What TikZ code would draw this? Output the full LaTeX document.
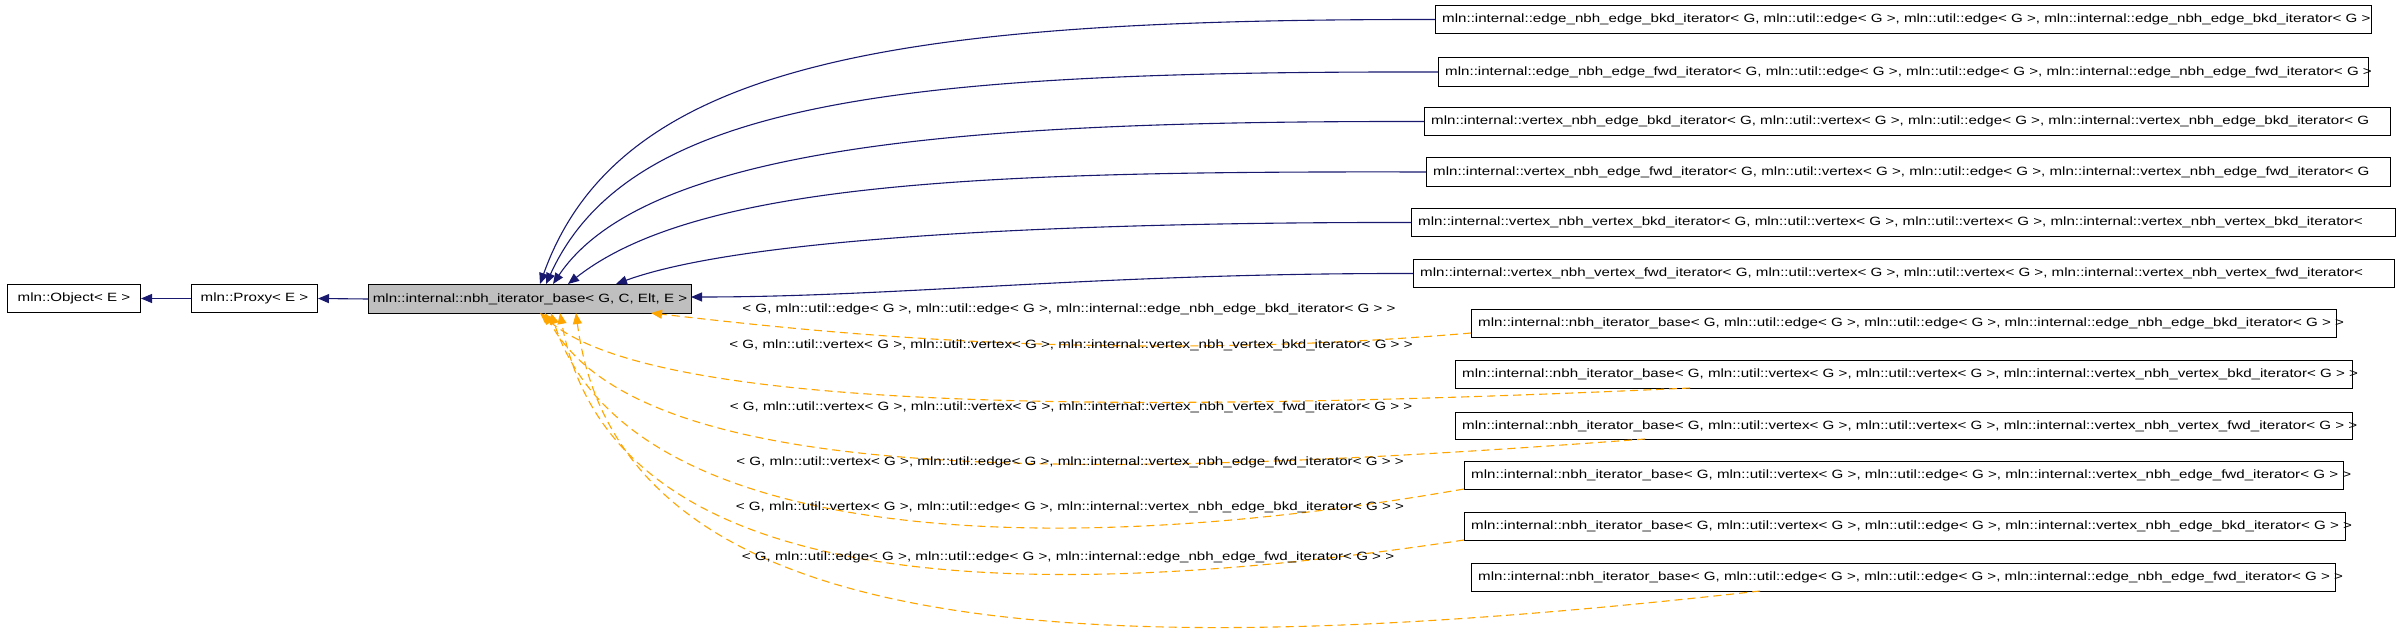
\documentclass[tikz,border=0pt]{standalone}
\usepackage{fontspec}
\setmainfont{Liberation Sans}
\usetikzlibrary{arrows.meta}
\definecolor{inh}{HTML}{191970}
\definecolor{tmpl}{HTML}{FFA500}
\newcommand\tx[1]{\scalebox{1.26}[1]{\fontsize{12pt}{14pt}\selectfont #1}}
\tikzset{
  box/.style={draw=black, line width=1pt, anchor=north west, inner sep=0pt},
  txt/.style={anchor=west, inner sep=0pt},
  blue/.style={draw=inh, line width=1.1pt, -{Triangle[length=11pt,width=9pt]}},
  orng/.style={draw=tmpl, line width=1.1pt, dash pattern=on 8pt off 5pt, -{Triangle[length=11pt,width=9pt]}},
  lbl/.style={inner sep=0pt, anchor=center}
}
\newcommand\bx[6]{% name, x1, y1, x2, y2, text
  \node[box, minimum width=#4pt-#2pt, minimum height=#5pt-#3pt] (#1) at (#2pt,-#3pt) {};
  \node[txt] (#1t) at ([xshift=7pt]#1.west) {\tx{#6}};
}
\begin{document}
\begin{tikzpicture}[x=1pt,y=1pt]
\useasboundingbox (0,0) rectangle (2400,-644);
\node[box, minimum width=133pt, minimum height=28pt] (obj) at (7,-284) {};
\node[lbl] (objt) at (obj.center) {\tx{mln::Object< E >}};
\node[box, minimum width=126pt, minimum height=28pt] (prx) at (191,-284) {};
\node[lbl] (prxt) at (prx.center) {\tx{mln::Proxy< E >}};
\node[box, fill=gray!50, minimum width=323pt, minimum height=29pt] (base) at (368,-284) {};
\node[lbl] (baset) at (base.center) {\tx{mln::internal::nbh\_iterator\_base< G, C, Elt, E >}};

\bx{r1}{1435}{5}{2371}{33}{mln::internal::edge\_nbh\_edge\_bkd\_iterator< G, mln::util::edge< G >, mln::util::edge< G >, mln::internal::edge\_nbh\_edge\_bkd\_iterator< G >}
\bx{r2}{1438}{57}{2368}{86}{mln::internal::edge\_nbh\_edge\_fwd\_iterator< G, mln::util::edge< G >, mln::util::edge< G >, mln::internal::edge\_nbh\_edge\_fwd\_iterator< G >}
\bx{r3}{1424}{107}{2390}{135}{mln::internal::vertex\_nbh\_edge\_bkd\_iterator< G, mln::util::vertex< G >, mln::util::edge< G >, mln::internal::vertex\_nbh\_edge\_bkd\_iterator< G}
\bx{r4}{1426}{157}{2390}{186}{mln::internal::vertex\_nbh\_edge\_fwd\_iterator< G, mln::util::vertex< G >, mln::util::edge< G >, mln::internal::vertex\_nbh\_edge\_fwd\_iterator< G}
\bx{r5}{1411}{208}{2395}{236}{mln::internal::vertex\_nbh\_vertex\_bkd\_iterator< G, mln::util::vertex< G >, mln::util::vertex< G >, mln::internal::vertex\_nbh\_vertex\_bkd\_iterator<}
\bx{r6}{1413}{259}{2394}{287}{mln::internal::vertex\_nbh\_vertex\_fwd\_iterator< G, mln::util::vertex< G >, mln::util::vertex< G >, mln::internal::vertex\_nbh\_vertex\_fwd\_iterator<}
\bx{r7}{1471}{309}{2336}{337}{mln::internal::nbh\_iterator\_base< G, mln::util::edge< G >, mln::util::edge< G >, mln::internal::edge\_nbh\_edge\_bkd\_iterator< G > >}
\bx{r8}{1455}{360}{2352}{388}{mln::internal::nbh\_iterator\_base< G, mln::util::vertex< G >, mln::util::vertex< G >, mln::internal::vertex\_nbh\_vertex\_bkd\_iterator< G > >}
\bx{r9}{1455}{412}{2352}{439}{mln::internal::nbh\_iterator\_base< G, mln::util::vertex< G >, mln::util::vertex< G >, mln::internal::vertex\_nbh\_vertex\_fwd\_iterator< G > >}
\bx{r10}{1464}{461}{2343}{489}{mln::internal::nbh\_iterator\_base< G, mln::util::vertex< G >, mln::util::edge< G >, mln::internal::vertex\_nbh\_edge\_fwd\_iterator< G > >}
\bx{r11}{1464}{512}{2345}{540}{mln::internal::nbh\_iterator\_base< G, mln::util::vertex< G >, mln::util::edge< G >, mln::internal::vertex\_nbh\_edge\_bkd\_iterator< G > >}
\bx{r12}{1471}{563}{2335}{591}{mln::internal::nbh\_iterator\_base< G, mln::util::edge< G >, mln::util::edge< G >, mln::internal::edge\_nbh\_edge\_fwd\_iterator< G > >}

\draw[blue] (prx.west) -- (obj.east);
\draw[blue] (base.west) -- (prx.east);

\coordinate (b1) at (540,-284);
\coordinate (b2) at (546,-284);
\coordinate (b3) at (553,-284);
\coordinate (b4) at (568,-284);
\coordinate (b5) at (616,-284);
\coordinate (b6) at (691,-297);
\draw[blue] (r1.west) .. controls (900,-19) and (620,-60) .. (b1);
\draw[blue] (r2.west) .. controls (900,-71) and (630,-100) .. (b2);
\draw[blue] (r3.west) .. controls (1000,-121) and (650,-140) .. (b3);
\draw[blue] (r4.west) .. controls (1000,-171) and (700,-180) .. (b4);
\draw[blue] (r5.west) .. controls (1100,-222) and (750,-235) .. (b5);
\draw[blue] (r6.west) .. controls (1100,-273) and (900,-297) .. (b6);

\coordinate (c7) at (651,-313);
\coordinate (c8) at (540,-313);
\coordinate (c9) at (545,-313);
\coordinate (c10) at (551,-313);
\coordinate (c11) at (560,-313);
\coordinate (c12) at (576,-313);
\coordinate (s7) at (1471,-333);
\coordinate (s8) at (1690,-388);
\coordinate (s9) at (1645,-439);
\coordinate (s10) at (1464,-489);
\coordinate (s11) at (1464,-540);
\coordinate (s12) at (1760,-591);
\draw[orng] (s7) .. controls (1100,-365) and (800,-330) .. (c7);
\draw[orng] (s8) .. controls (1100,-415) and (650,-410) .. (c8);
\draw[orng] (s9) .. controls (1100,-480) and (640,-490) .. (c9);
\draw[orng] (s10) .. controls (1000,-570) and (620,-530) .. (c10);
\draw[orng] (s11) .. controls (1000,-610) and (610,-590) .. (c11);
\draw[orng] (s12) .. controls (1100,-665) and (620,-650) .. (c12);

\node[lbl] (l7) at (1069,-309) {\tx{< G, mln::util::edge< G >, mln::util::edge< G >, mln::internal::edge\_nbh\_edge\_bkd\_iterator< G > >}};
\node[lbl] (l8) at (1071,-345) {\tx{< G, mln::util::vertex< G >, mln::util::vertex< G >, mln::internal::vertex\_nbh\_vertex\_bkd\_iterator< G > >}};
\node[lbl] (l9) at (1071,-407) {\tx{< G, mln::util::vertex< G >, mln::util::vertex< G >, mln::internal::vertex\_nbh\_vertex\_fwd\_iterator< G > >}};
\node[lbl] (l10) at (1070,-462) {\tx{< G, mln::util::vertex< G >, mln::util::edge< G >, mln::internal::vertex\_nbh\_edge\_fwd\_iterator< G > >}};
\node[lbl] (l11) at (1070,-507) {\tx{< G, mln::util::vertex< G >, mln::util::edge< G >, mln::internal::vertex\_nbh\_edge\_bkd\_iterator< G > >}};
\node[lbl] (l12) at (1068,-557) {\tx{< G, mln::util::edge< G >, mln::util::edge< G >, mln::internal::edge\_nbh\_edge\_fwd\_iterator< G > >}};
\end{tikzpicture}
\end{document}
